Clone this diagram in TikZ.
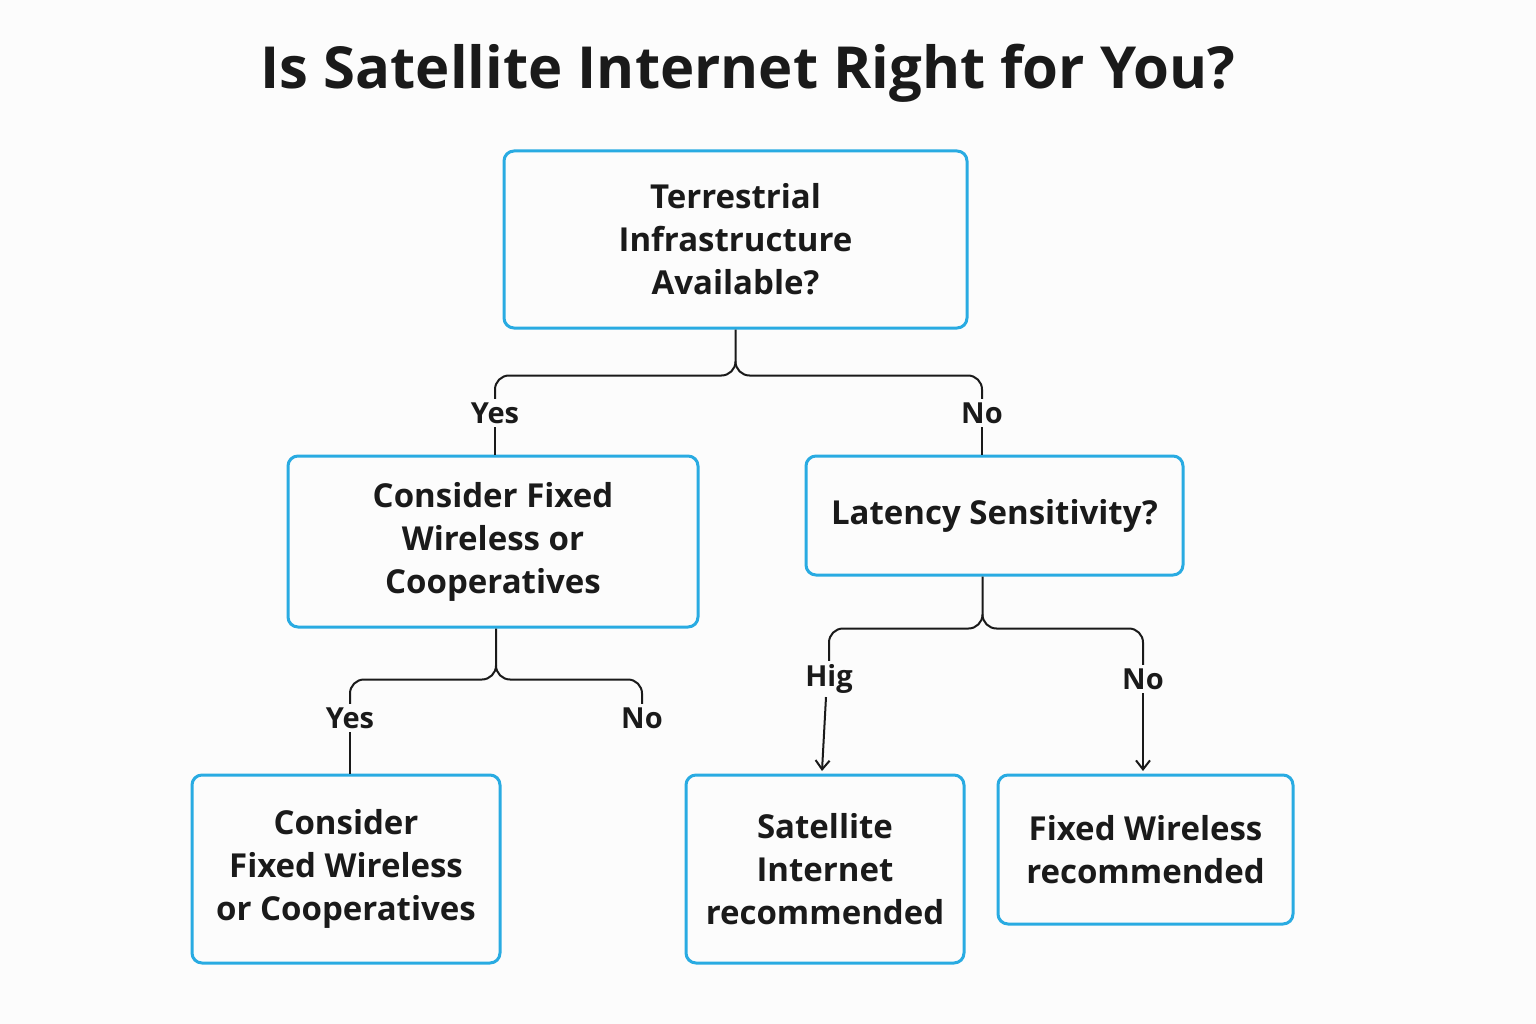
\documentclass[tikz,border=0pt]{standalone}
\usepackage{fontspec}
\setmainfont{Open Sans}
\usetikzlibrary{arrows.meta}
\definecolor{bx}{HTML}{29ABE2}
\definecolor{tx}{HTML}{1A1A1A}
\begin{document}
\begin{tikzpicture}[x=1pt,y=-1pt,
  box/.style={draw=bx,line width=3pt,rounded corners=10pt,text=tx,align=center,font=\fontsize{33}{43}\selectfont\bfseries,inner sep=0pt},
  lab/.style={text=tx,font=\fontsize{29}{34}\selectfont\bfseries},
  con/.style={draw=tx,line width=2pt,rounded corners=14pt},
  arr/.style={draw=tx,line width=2pt,-{Straight Barb[length=9pt,width=14pt]}}]
\fill[white!98!gray] (0,0) rectangle (1536,1024);
\node[text=tx,font=\fontsize{58}{64}\selectfont\bfseries] (title) at (748,73) {Is Satellite Internet Right for You?};
\node[box,minimum width=463pt,minimum height=177pt] (top) at (735.5,239.5) {Terrestrial\\Infrastructure\\Available?};
\node[box,minimum width=410pt,minimum height=171pt] (lm) at (493,541.5) {Consider Fixed\\Wireless or\\Cooperatives};
\node[box,minimum width=377pt,minimum height=119pt] (rm) at (994.5,515.5) {Latency Sensitivity?};
\node[box,minimum width=308pt,minimum height=188pt] (bl) at (346,869) {Consider\\Fixed Wireless\\or Cooperatives};
\node[box,minimum width=278pt,minimum height=188pt] (bm) at (825,869) {Satellite\\Internet\\recommended};
\node[box,minimum width=295pt,minimum height=149pt] (br) at (1145.5,849.5) {Fixed Wireless\\recommended};
\node[lab] (y1) at (495,413) {Yes};
\node[lab] (n1) at (982,413) {No};
\node[lab] (y2) at (350,718) {Yes};
\node[lab] (n2) at (642,718) {No};
\node[lab] (h3) at (829,679) {Hig};
\node[lab] (n3) at (1143,679) {No};
% top split
\draw[con] (top.south) -- ++(0,46) -| (y1.north);
\draw[con] (top.south) ++(0,32) -- ++(0,14) -| (n1.north);
\draw[con] (y1.south) -- (y1.south |- lm.north);
\draw[con] (n1.south) -- (n1.south |- rm.north);
% left mid split
\draw[con] (lm.south) ++(3,0) -- ++(0,51) -| (y2.north);
\draw[con] (lm.south) ++(3,37) -- ++(0,14) -| (n2.north);
\draw[con] (y2.south) -- (y2.south |- bl.north);
% right mid split
\draw[con] (rm.south) ++(-12,0) -- ++(0,52) -| (h3.north);
\draw[con] (rm.south) ++(-12,38) -- ++(0,14) -| (n3.north);
\draw[arr] (h3.south) ++(-3,0) -- ([xshift=-3pt]bm.north |- 0,771);
\draw[arr] (n3.south) -- (n3.south |- 0,771);
\end{tikzpicture}
\end{document}
